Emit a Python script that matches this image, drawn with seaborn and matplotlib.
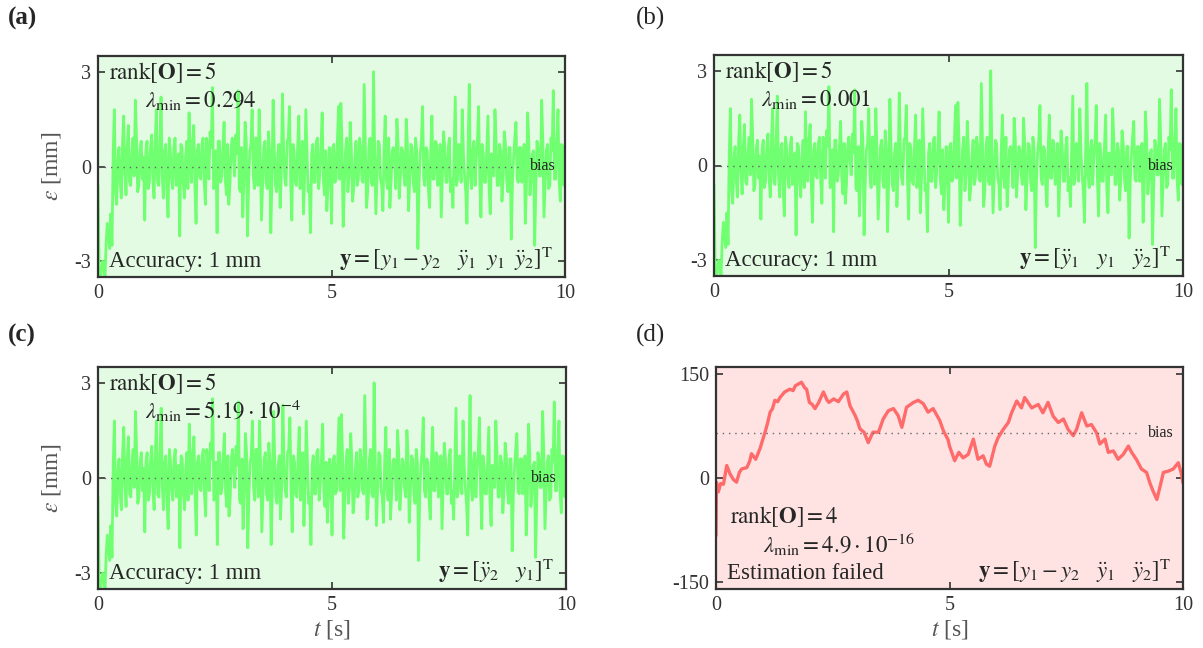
import numpy as np
import pandas as pd
import matplotlib
matplotlib.use("Agg")
import matplotlib.pyplot as plt
import seaborn as sns

# ---------------- data ----------------
# estimation error (mm) for the observable cases: samples at t = 0, 0.05, ... 10 s
err_green = [
    -0.6, -3.6, -3.0, -3.5, -1.8, -2.6, -2.5, 1.8, -1.2, 0.6, -1.0, 1.6, -0.9, 1.3, -0.6, 0.9, 2.1, -0.8, 0.5, -0.4,
    -1.7, 0.8, -0.5, 1.0, -1.0, 1.8, -0.6, 2.2, -1.0, 0.7, -1.6, 0.5, -0.7, 0.9, -0.3, -2.2, 0.6, -1.0, 0.8, 1.7,
    -0.5, 1.3, -1.8, 0.7, -0.4, 0.9, -1.2, 0.4, 1.1, 2.5, -0.6, -2.1, 0.8, -0.3, 1.4, -0.9, -1.2, 0.6, 0.2, 1.0,
    2.4, -0.8, -1.6, 1.4, -2.2, 0.5, 1.8, -0.7, 0.9, 1.8, -1.7, 0.6, -0.5, 1.1, -2.1, 2.1, -0.6, 0.4, -1.3, 2.3,
    -0.4, 0.8, 1.9, -1.7, 0.5, -0.6, 1.6, -0.3, -1.5, 1.8, -0.8, -2.1, 0.7, -0.5, 0.9, -0.2, 1.7, -0.9, -1.4, 0.6,
    -1.8, 0.7, -0.4, 1.9, 2.0, -1.9, 0.5, -0.8, 1.4, -1.1, 0.3, -0.6, 0.9, -0.4, 2.6, -1.3, 0.6, -0.5, 3.0, -1.5,
    0.8, -0.4, -1.4, 1.6, -0.7, -1.3, 0.5, 0.2, 1.5, -1.0, 0.6, -0.3, 1.5, -1.4, 0.7, -0.5, 0.9, -2.6, 0.4, 1.9,
    -0.6, 0.5, -1.3, 1.6, -0.4, 0.7, -0.2, -1.6, 1.1, -0.5, 0.6, -0.8, -1.3, 2.2, -0.4, 0.6, 1.8, -0.3, -1.8, 2.6,
    -0.7, 0.8, 0.3, 1.9, -1.6, 0.4, -0.5, 1.6, -1.5, 0.2, 1.8, -0.6, 0.7, -1.1, 1.1, -0.4, 0.6, -2.3, 0.3, 1.4,
    -0.5, 0.6, 0.3, -1.8, 1.7, -0.9, 0.4, -2.5, 0.8, -0.3, 2.1, -1.6, 0.5, -0.7, 0.9, 2.4, -0.4, 1.8, -1.1, 0.6, 0.7,
]
# in-between samples (t = 0.025, 0.075, ... 9.975 s)
err_green_mid = [
    -3.2, -3.3, -3.1, -2.4, -2.2, -1.5, 0.4, -0.8, 0.2, -0.5, 0.7, -0.2, 0.6, -0.5, 0.4, -0.3, 0.9, -0.6, 0.8, 0.3,
    0.5, -0.7, 0.6, -0.4, 0.8, -0.5, 0.7, -0.3, 0.5, -0.8, 0.9, -0.4, 0.6, -0.6, 0.4, 0.7, -0.5, 0.3, -0.7, 0.2,
    0.8, -0.6, 0.5, -0.3, 0.7, -0.5, 0.9, -0.4, 0.6, -0.7, 0.5, 0.8, -0.5, 0.6, -0.4, 0.7, -0.6, 0.9, -0.3, 0.4,
    -0.7, 0.6, -0.4, 0.8, -0.5, 0.7, -0.3, 0.9, -0.6, 0.4, -0.5, 0.8, -0.7, 0.5, -0.4, 0.6, -0.8, 0.7, -0.2, 0.5,
    -0.6, 0.9, -0.4, 0.7, -0.5, 0.6, -0.7, 0.8, -0.3, 0.5, -0.6, 0.4, -0.5, 0.8, -0.7, 0.6, -0.4, 0.5, -0.6, 0.3,
    0.6, -0.5, 0.8, -0.4, 0.7, -0.6, 0.9, -0.3, 0.5, -0.7, 0.8, -0.4, 0.6, -0.5, 0.7, -0.8, 0.9, -0.6, 0.4, -0.3,
    0.7, -0.6, 0.5, -0.4, 0.9, -0.5, 0.6, -0.7, 0.8, -0.3, 0.5, -0.6, 0.7, -0.4, 0.6, -0.8, 0.5, -0.5, 0.8, -0.4,
    0.6, -0.7, 0.5, -0.4, 0.8, -0.6, 0.7, -0.3, 0.6, -0.5, 0.9, -0.4, 0.5, -0.6, 0.7, -0.5, 0.4, -0.8, 0.6, -0.3,
    0.5, -0.6, 0.8, -0.4, 0.7, -0.5, 0.6, -0.7, 0.4, -0.3, 0.8, -0.6, 0.5, -0.4, 0.7, -0.8, 0.6, -0.5, 0.9, -0.4,
    0.6, -0.5, 0.7, -0.6, 0.8, -0.4, 0.5, -0.7, 0.6, -0.3, 0.8, -0.5, 0.7, -0.6, 0.5, -0.4, 0.8, -0.5, 0.7, -0.6,
]

# failed estimation (mm)
t_red = [0.00, 0.01, 0.05, 0.10, 0.16, 0.23, 0.30, 0.37, 0.44, 0.50, 0.55, 0.66, 0.72, 0.76, 0.85, 0.94,
         1.05, 1.10, 1.16, 1.21, 1.26, 1.32, 1.37, 1.47, 1.58, 1.65, 1.70, 1.83, 1.90, 1.94, 2.00, 2.06,
         2.12, 2.20, 2.30, 2.38, 2.42, 2.52, 2.62, 2.73, 2.80, 2.87, 2.98, 3.03, 3.08, 3.17, 3.26, 3.36,
         3.48, 3.58, 3.69, 3.80, 3.90, 3.98, 4.08, 4.23, 4.33, 4.44, 4.54, 4.65, 4.79, 4.87, 4.97, 5.00,
         5.11, 5.20, 5.29, 5.40, 5.51, 5.61, 5.72, 5.79, 5.86, 5.97, 6.04, 6.15, 6.26, 6.33, 6.44, 6.54,
         6.61, 6.76, 6.90, 7.00, 7.11, 7.22, 7.33, 7.44, 7.54, 7.65, 7.72, 7.83, 7.94, 8.04, 8.15, 8.22,
         8.33, 8.40, 8.51, 8.61, 8.72, 8.83, 8.90, 9.00, 9.11, 9.22, 9.29, 9.36, 9.44, 9.51, 9.58, 9.69,
         9.79, 9.90, 9.97, 10.00]
err_red = [-83, -6, -20, -8, -9, 18, 6, -2, -6, 8, 13, 15, 24, 35, 27, 42,
           66, 78, 95, 100, 112, 110, 116, 124, 128, 126, 133, 138, 130, 128, 109, 106,
           100, 109, 124, 112, 109, 114, 110, 121, 124, 104, 90, 82, 71, 66, 51, 66,
           66, 85, 97, 100, 90, 73, 102, 109, 112, 107, 95, 100, 83, 68, 55, 46,
           25, 37, 29, 34, 56, 27, 32, 20, 17, 46, 58, 70, 80, 94, 111, 101,
           116, 101, 106, 94, 109, 89, 80, 85, 70, 61, 70, 94, 75, 77, 65, 49,
           56, 37, 39, 27, 34, 46, 37, 27, 13, 8, -7, -19, -31, -12, 8, 10,
           13, 22, 5, -7]

panel_labels = ["(a)", "(b)", "(c)", "(d)"]
ranks = [5, 5, 5, 4]
lambda_texts = ["0.294", "0.001", r"5.19\cdot10^{-4}", r"4.9\cdot10^{-16}"]
output_vectors = [
    r"$\mathbf{y} = \left[y_1 - y_2\quad \ddot{y}_1\;\; y_1\;\; \ddot{y}_2\right]^{\mathrm{T}}$",
    r"$\mathbf{y} = \left[\ddot{y}_1\quad y_1\quad \ddot{y}_2\right]^{\mathrm{T}}$",
    r"$\mathbf{y} = \left[\ddot{y}_2\quad y_1\right]^{\mathrm{T}}$",
    r"$\mathbf{y} = \left[y_1 - y_2\quad \ddot{y}_1\quad \ddot{y}_2\right]^{\mathrm{T}}$",
]
status_texts = ["Accuracy: 1 mm", "Accuracy: 1 mm", "Accuracy: 1 mm", "Estimation failed"]
bias_values = [0, 0, 0, 65]
x_ticks = [0, 5, 10]
y_ticks_green = [-3, 0, 3]
y_ticks_red = [-150, 0, 150]

# interleave the two green sample sets into one time series (dt = 0.025 s)
n_main = len(err_green)
t_green = np.arange(2 * n_main - 1) * 0.025
err_green_full = np.empty(2 * n_main - 1)
err_green_full[0::2] = err_green
err_green_full[1::2] = err_green_mid

# ---------------- style ----------------
sns.set_theme(style="ticks")
plt.rcParams["font.family"] = ["Liberation Serif", "DejaVu Serif"]
plt.rcParams["mathtext.fontset"] = "stix"
plt.rcParams["axes.unicode_minus"] = False

GREEN_LINE = "#70ff70"
GREEN_BG = "#e3fbe3"
RED_LINE = "#ff6b6b"
RED_BG = "#ffe3e3"
SPINE = "#333333"

W, H = 1203, 648
fig = plt.figure(figsize=(W / 100, H / 100), dpi=100)

boxes = [(98, 565, 56, 277), (714, 1183, 55, 276), (98, 566, 367, 589), (716, 1183, 367, 589)]
axes = []
for (l, r, t, b) in boxes:
    axes.append(fig.add_axes([l / W, 1 - b / H, (r - l) / W, (b - t) / H]))

df_green = pd.DataFrame({"t": t_green, "err": err_green_full})
df_red = pd.DataFrame({"t": t_red, "err": err_red})

for i, ax in enumerate(axes):
    failed = i == 3
    df = df_red if failed else df_green
    sns.lineplot(data=df, x="t", y="err", ax=ax, color=RED_LINE if failed else GREEN_LINE,
                 lw=2.4 if failed else 2.0, estimator=None, sort=False)
    ax.set_facecolor(RED_BG if failed else GREEN_BG)
    ax.set_xlim(0, 10)
    if failed:
        ax.set_ylim(-160, 160)
        ax.set_yticks(y_ticks_red)
    else:
        ax.set_ylim(-3.5, 3.5)
        ax.set_yticks(y_ticks_green)
    ax.set_xticks(x_ticks)
    ax.tick_params(direction="in", top=True, right=True, length=5, width=1.2,
                   colors=SPINE, labelsize=14.5, pad=5, labelcolor="#333333")
    for s in ax.spines.values():
        s.set_color(SPINE)
        s.set_linewidth(1.6)
    ax.set_xlabel("")
    ax.set_ylabel("")

    # bias line + label
    ax.axhline(bias_values[i], xmin=0, xmax=0.91, ls=(0, (1, 3.5)), color="#666666", lw=1.0)
    ax.text(0.925, bias_values[i], "bias", transform=ax.get_yaxis_transform(),
            ha="left", va="center", fontsize=11.5, color="#222222")

    rank_txt = r"$\mathrm{rank}\left[\mathbf{O}\right] = %d$" % ranks[i]
    lam_txt = r"$\lambda_{\mathrm{min}} = %s$" % lambda_texts[i]
    if failed:
        ax.text(0.03, 0.325, rank_txt, transform=ax.transAxes, ha="left", va="center", fontsize=16.5)
        ax.text(0.10, 0.2, lam_txt, transform=ax.transAxes, ha="left", va="center", fontsize=16.5)
    else:
        ax.text(0.024, 0.925, rank_txt, transform=ax.transAxes, ha="left", va="center", fontsize=16.5)
        ax.text(0.10, 0.80, lam_txt, transform=ax.transAxes, ha="left", va="center", fontsize=16.5)
    ax.text(0.024, 0.07, status_texts[i], transform=ax.transAxes, ha="left", va="center", fontsize=16.5)
    ax.text(0.975, 0.08, output_vectors[i], transform=ax.transAxes, ha="right", va="center", fontsize=16.5)

# axis labels
for ax in (axes[0], axes[2]):
    ax.set_ylabel(r"$\varepsilon$ [mm]", fontsize=17, color="#555555", labelpad=8)
for ax in (axes[2], axes[3]):
    ax.set_xlabel(r"$t$ [s]", fontsize=17, color="#555555", labelpad=2)

# panel labels
fig.text(8 / W, 1 - 18 / H, panel_labels[0], fontsize=18, fontweight="bold", va="center", ha="left")
fig.text(636 / W, 1 - 18 / H, panel_labels[1], fontsize=18, va="center", ha="left")
fig.text(8 / W, 1 - 335 / H, panel_labels[2], fontsize=18, fontweight="bold", va="center", ha="left")
fig.text(636 / W, 1 - 335 / H, panel_labels[3], fontsize=18, va="center", ha="left")

fig.savefig("out.png", dpi=100)
